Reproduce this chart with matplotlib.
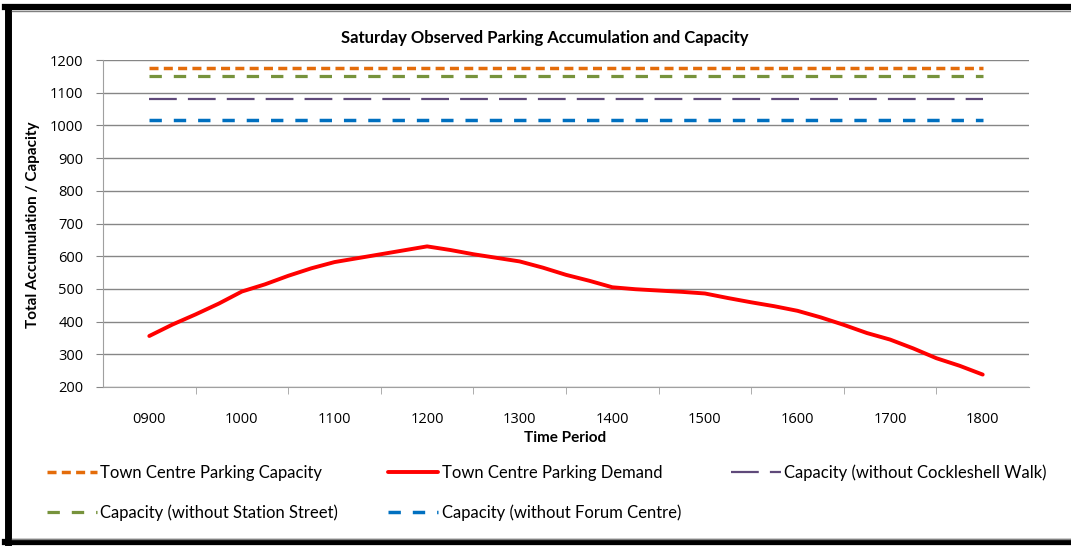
import matplotlib
matplotlib.use("Agg")
import numpy as np
from matplotlib import pyplot as plt
from matplotlib.lines import Line2D

plt.rcParams["lines.scale_dashes"] = False

# Hourly categories on the x axis
periods = ["0900", "1000", "1100", "1200", "1300", "1400", "1500", "1600", "1700", "1800"]

# Observed demand, read every 15 minutes
demand_times = ["0900", "0915", "0930", "0945", "1000", "1015", "1030", "1045",
                "1100", "1115", "1130", "1145", "1200", "1215", "1230", "1245",
                "1300", "1315", "1330", "1345", "1400", "1415", "1430", "1445",
                "1500", "1515", "1530", "1545", "1600", "1615", "1630", "1645",
                "1700", "1715", "1730", "1745", "1800"]
demand = [356, 391, 422, 455, 492, 514, 540, 563,
          582, 594, 606, 618, 630, 619, 606, 595,
          584, 565, 543, 525, 505, 499, 495, 491,
          486, 472, 459, 447, 433, 413, 390, 365,
          345, 318, 288, 265, 238]

# Capacities
cap_total = 1177
cap_no_station = 1150
cap_no_cockleshell = 1081
cap_no_forum = 1016

W, H = 1071, 546
fig = plt.figure(figsize=(W / 100, H / 100), dpi=100)
ax = fig.add_axes([103 / W, 1 - 387 / H, (1029 - 103) / W, (387 - 60) / H])

x_cat = np.arange(len(periods))
t0 = int(periods[0][:2])
x_dem = [int(t[:2]) - t0 + int(t[2:]) / 60 for t in demand_times]

orange, green, purple, blue, red = "#e46c0a", "#77933c", "#5f497a", "#0070c0", "#ff0000"

l_tot, = ax.plot(x_cat, [cap_total] * len(periods), c=orange, lw=2.5,
                 dashes=(6.5, 3.8), label="Town Centre Parking Capacity")
l_sta, = ax.plot(x_cat, [cap_no_station] * len(periods), c=green, lw=2.3,
                 dashes=(8.9, 8.6), label="Capacity (without Station Street)")
l_coc, = ax.plot(x_cat, [cap_no_cockleshell] * len(periods), c=purple, lw=1.6,
                 dashes=(20, 8), label="Capacity (without Cockleshell Walk)")
l_for, = ax.plot(x_cat, [cap_no_forum] * len(periods), c=blue, lw=2.5,
                 dashes=(8.9, 8.6), label="Capacity (without Forum Centre)")
l_dem, = ax.plot(x_dem, demand, c=red, lw=2.8, solid_capstyle="round",
                 label="Town Centre Parking Demand")

ax.set_xlim(-0.5, len(periods) - 0.5)
ax.set_ylim(200, 1200)
ax.set_yticks(np.arange(200, 1201, 100))
ax.set_xticks(x_cat)
ax.set_xticklabels(periods)
ax.set_xticks(np.arange(0.5, len(periods) - 0.5, 1), minor=True)
ax.tick_params(axis="x", which="major", length=0, pad=18, labelsize=10.5)
ax.tick_params(axis="x", which="minor", length=5, color="#a0a0a0", direction="out")
ax.tick_params(axis="y", length=5, color="#868686", pad=9, labelsize=10.5)
ax.yaxis.grid(True, color="#868686", lw=1)
ax.set_axisbelow(True)
for s in ["top", "right"]:
    ax.spines[s].set_visible(False)
for s in ["left", "bottom"]:
    ax.spines[s].set_color("#a0a0a0")

for lab in ax.get_xticklabels() + ax.get_yticklabels():
    lab.set_family("Open Sans")

fig.text(545 / W, 1 - 38 / H, "Saturday Observed Parking Accumulation and Capacity",
         ha="center", va="center", fontsize=12, fontweight="bold", family="Lato")
fig.text(33 / W, 1 - 225 / H, "Total Accumulation / Capacity", rotation=90,
         ha="center", va="center", fontsize=11, fontweight="bold", family="Lato")
fig.text(565 / W, 1 - 438 / H, "Time Period",
         ha="center", va="center", fontsize=11, fontweight="bold", family="Lato")

handles = [l_tot, l_sta, l_dem, l_for, l_coc]
fig.legend(handles=handles, labels=[h.get_label() for h in handles], ncol=3,
           loc="upper left", bbox_to_anchor=(47 / W, 1 - 464 / H),
           frameon=False, borderpad=0, borderaxespad=0,
           handlelength=3.0, handletextpad=0.2, labelspacing=1.45,
           columnspacing=3.0, prop={"family": "Lato", "size": 12})

# black frame round the chart (no right edge in the source)
fig.add_artist(Line2D([8 / W, 8 / W], [1 - 7 / H, 1 - 542 / H], c="k", lw=5))
fig.add_artist(Line2D([5 / W, 1], [1 - 7 / H, 1 - 7 / H], c="k", lw=4.5))
fig.add_artist(Line2D([12 / W, 1], [1 - 10.5 / H, 1 - 10.5 / H], c="#808080", lw=1))
fig.add_artist(Line2D([5 / W, 1], [1 - 542 / H, 1 - 542 / H], c="k", lw=4.5))
fig.add_artist(Line2D([12 / W, 1], [1 - 538.5 / H, 1 - 538.5 / H], c="#808080", lw=1))

fig.savefig("out.png", dpi=100)
